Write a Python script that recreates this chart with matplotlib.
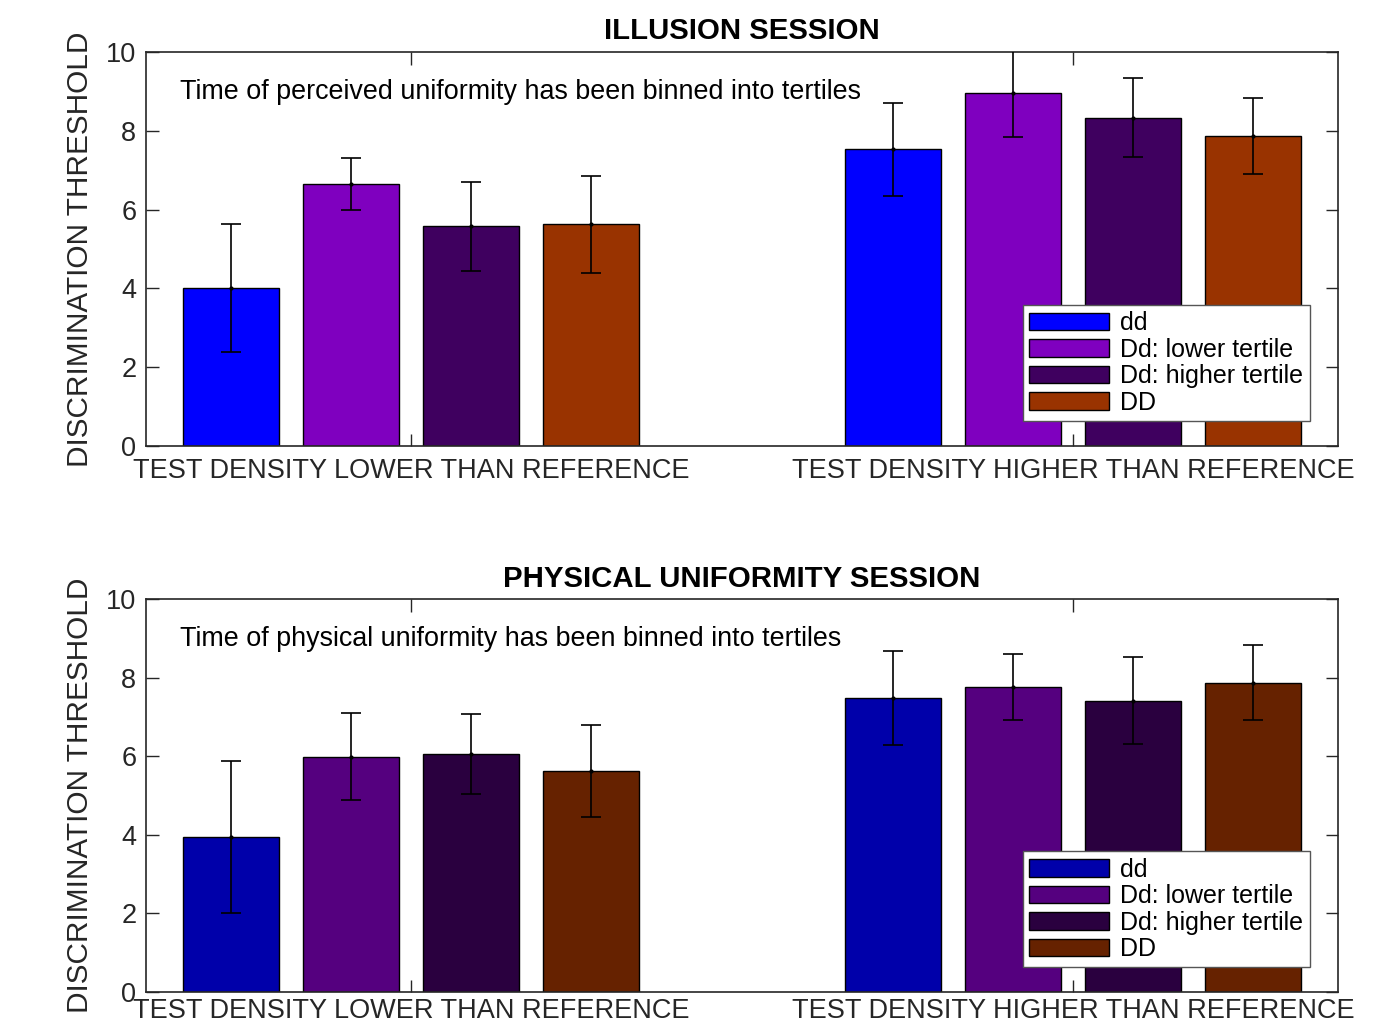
import numpy as np
import matplotlib
matplotlib.use('Agg')
import matplotlib.pyplot as plt

plt.rcParams['font.family'] = ['Liberation Sans', 'DejaVu Sans']

groups = ['TEST DENSITY LOWER THAN REFERENCE', 'TEST DENSITY HIGHER THAN REFERENCE']
conditions = ['dd', 'Dd: lower tertile', 'Dd: higher tertile', 'DD']

# illusion session: mean threshold and error per condition, one row per group
ill_mean = np.array([[4.01, 6.65, 5.58, 5.63],
                     [7.53, 8.95, 8.33, 7.87]])
ill_err = np.array([[1.62, 0.67, 1.13, 1.23],
                    [1.18, 1.10, 1.00, 0.96]])
ill_colors = ['#0000ff', '#7f00bf', '#3f005f', '#993300']

# physical uniformity session
phys_mean = np.array([[3.95, 5.99, 6.05, 5.62],
                      [7.48, 7.77, 7.41, 7.87]])
phys_err = np.array([[1.94, 1.10, 1.02, 1.17],
                     [1.20, 0.84, 1.11, 0.95]])
phys_colors = ['#0000aa', '#55007f', '#2a003f', '#662200']

titles = ['ILLUSION SESSION', 'PHYSICAL UNIFORMITY SESSION']
notes = ['Time of perceived uniformity has been binned into tertiles',
         'Time of physical uniformity has been binned into tertiles']

axcol = '#262626'
fig = plt.figure(figsize=(13.99, 10.25), dpi=100)
axes = [fig.add_axes([0.1044, 0.5649, 0.852, 0.3844]),
        fig.add_axes([0.1044, 0.0322, 0.852, 0.3834])]
xpads = [9, 4]

xg = np.arange(1, len(groups) + 1)
offsets = np.array([-0.272, -0.0906, 0.0906, 0.272])
width = 0.145

for ax, means, errs, cols, title, note, xpad in zip(axes, [ill_mean, phys_mean], [ill_err, phys_err],
                                                     [ill_colors, phys_colors], titles, notes, xpads):
    for k in range(len(conditions)):
        xs = xg + offsets[k]
        ax.bar(xs, means[:, k], width, color=cols[k], edgecolor='black',
               linewidth=1.0, label=conditions[k], zorder=2)
        ax.errorbar(xs, means[:, k], yerr=errs[:, k], fmt='.', color='black',
                    markersize=4, elinewidth=1.2, capsize=7, capthick=1.2, zorder=3)
    ax.set_xlim(0.6, 2.4)
    ax.set_ylim(0, 10)
    ax.set_xticks(xg)
    ax.set_xticklabels(groups, fontsize=19.5)
    ax.set_yticks(np.arange(0, 11, 2))
    ax.tick_params(direction='in', length=9, width=1, colors=axcol, labelsize=19.5,
                   top=True, right=True)
    ax.tick_params(axis='y', pad=7)
    ax.tick_params(axis='x', pad=xpad)
    for s in ax.spines.values():
        s.set_color(axcol)
        s.set_linewidth(1.2)
    ax.set_ylabel('DISCRIMINATION THRESHOLD', fontsize=21.4, color=axcol, labelpad=9)
    ax.set_title(title, fontsize=21.2, fontweight='bold', pad=9)
    ax.text(0.651, 8.98, note, fontsize=19.4, color='black', va='center', ha='left')
    leg = ax.legend(loc='upper left', bbox_to_anchor=(0.7357, 0.358), borderaxespad=0,
                    fontsize=18, handlelength=3.2, handleheight=0.7, labelspacing=0.1,
                    handletextpad=0.45, borderpad=0.25, fancybox=False, framealpha=1,
                    edgecolor='#555555')
    leg.get_frame().set_linewidth(1.0)

fig.savefig('out.png', dpi=100)
